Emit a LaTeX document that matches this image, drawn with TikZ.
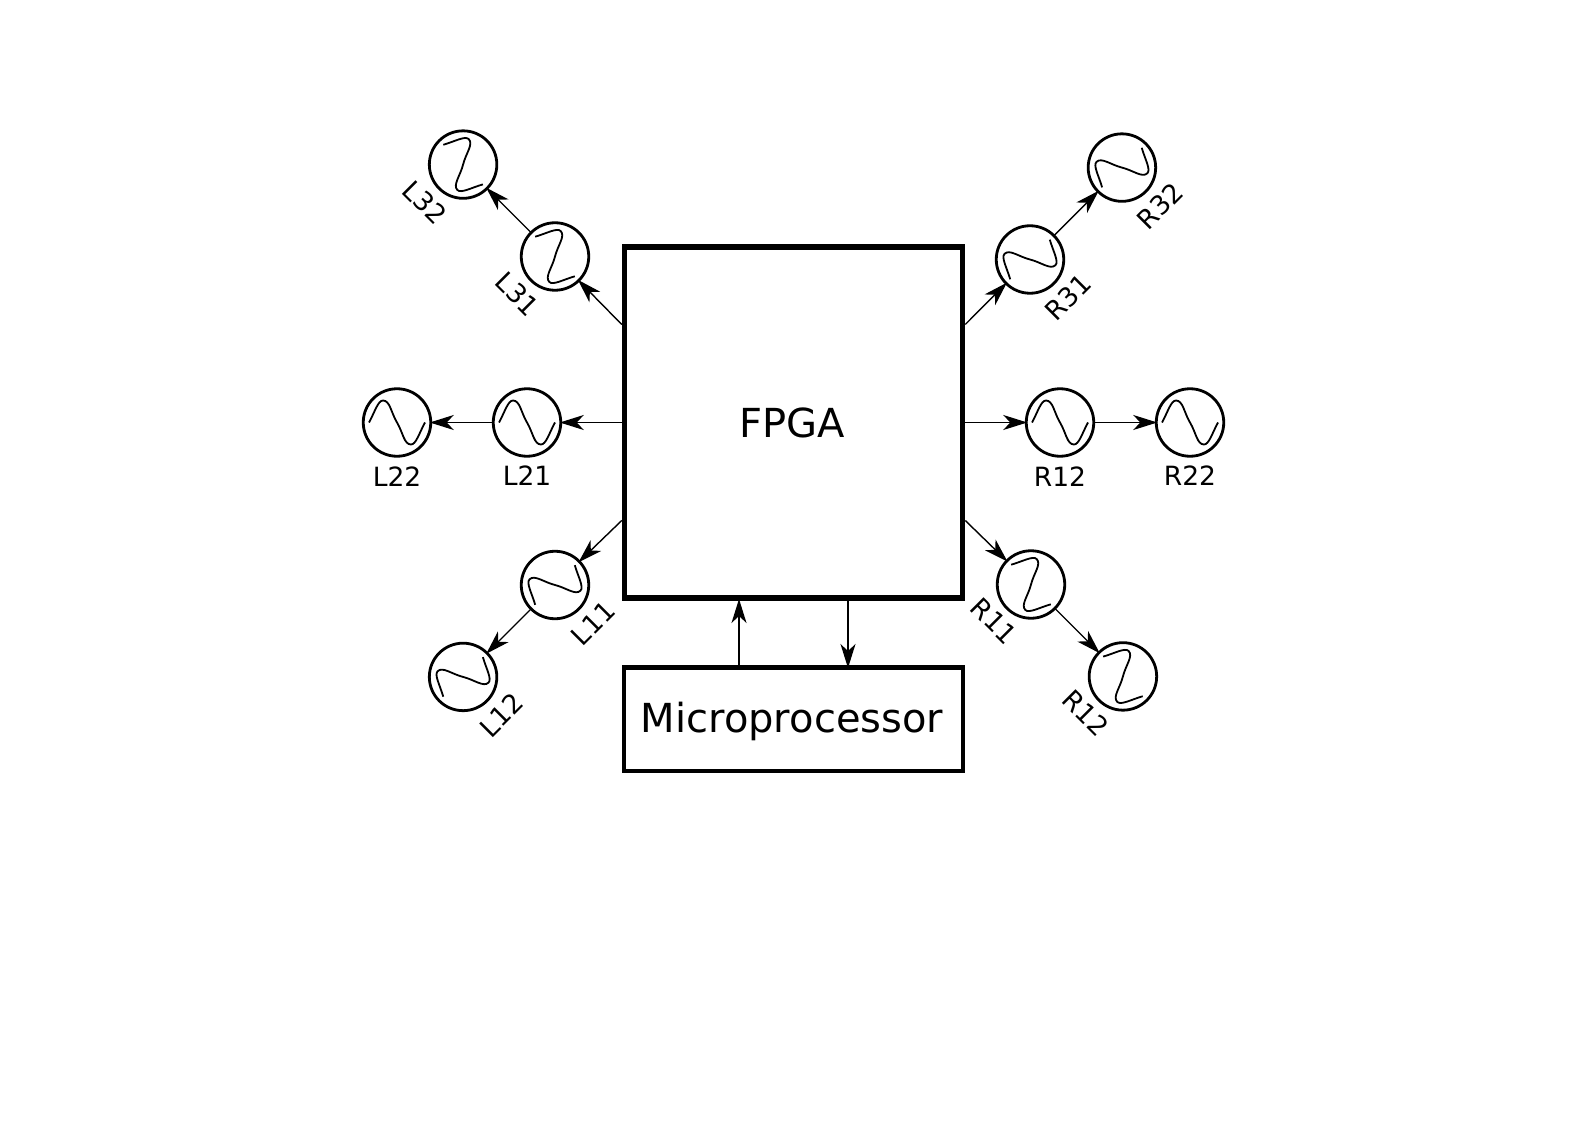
\documentclass[tikz,border=0pt]{standalone}
\usepackage{fontspec}
\setmainfont{DejaVu Sans}
\usetikzlibrary{arrows.meta}

\tikzset{
    osc/.style={circle,draw,line width=2.8pt,minimum size=67.5pt,inner sep=0pt,outer sep=0pt},
    oscname/.style={font=\fontsize{26.5}{30}\selectfont,inner sep=0pt},
    block/.style={draw,line width=#1,inner sep=0pt,font=\fontsize{40}{46}\selectfont},
    pics/sinewave/.style={code={
        \draw[line width=1.8pt,shorten >=0pt]
            (-28,0) .. controls (-22,-11) and (-19,-22) .. (-14,-22)
            .. controls (-7,-22) and (-6,-10) .. (0,0)
            .. controls (6,10) and (7,22) .. (14,22)
            .. controls (19,22) and (22,11) .. (28,0);}}
}

\begin{document}
\begin{tikzpicture}[x=1pt,y=-1pt,>={Stealth[length=24pt,width=15pt,inset=7pt]},shorten >=-1pt,line width=1.4pt]
            \useasboundingbox (0,0) rectangle (1588,1123);

            \node[block=5.5pt, minimum width=338pt, minimum height=351pt] (fpga) at (793.5,422.5) {\hspace*{-3pt}FPGA};
            \node[block=4.5pt, minimum width=339pt, minimum height=103.5pt, text depth=2.5pt] (micro) at (793.5,719) {\hspace*{-3pt}Microprocessor};

            % middle row
            \node[osc] (L21)[left of = fpga, node distance=266.5pt] {};
            \node[osc] (L22)[left of = L21, node distance=130pt] {};
            \node[osc] (R21)[right of = fpga, node distance=266.5pt] {};
            \node[osc] (R22)[right of = R21, node distance=130pt] {};
            % corners
            \node[osc] (L31) at (555,256.5) {};
            \node[osc] (L32)[above left of = L31, node distance=130pt] {};
            \node[osc] (L11) at (555,585) {};
            \node[osc] (L12)[below left of = L11, node distance=130pt] {};
            \node[osc] (R31) at (1030,259.5) {};
            \node[osc] (R32)[above right of = R31, node distance=130pt] {};
            \node[osc] (R11) at (1031,584.5) {};
            \node[osc] (R12)[below right of = R11, node distance=130pt] {};

            \pic at (L21) {sinewave};
            \pic at (L22) {sinewave};
            \pic at (R21) {sinewave};
            \pic at (R22) {sinewave};
            \pic[rotate=-45] at (L31) {sinewave};
            \pic[rotate=-45] at (L32) {sinewave};
            \pic[rotate=45] at (L11) {sinewave};
            \pic[rotate=45] at (L12) {sinewave};
            \pic[rotate=45] at (R31) {sinewave};
            \pic[rotate=45] at (R32) {sinewave};
            \pic[rotate=-45] at (R11) {sinewave};
            \pic[rotate=-45] at (R12) {sinewave};

            \node[oscname] (tL21)[below of = L21, node distance=53pt] {L21};
            \node[oscname] (tL22)[below of = L22, node distance=54.5pt] {L22};
            \node[oscname] (tR21)[below of = R21, node distance=54.5pt] {R12};
            \node[oscname] (tR22)[below of = R22, node distance=53pt] {R22};
            \node[oscname, below left of = L31, node distance=53pt, rotate=-45] (tL31) {L31};
            \node[oscname, below left of = L32, node distance=54pt, rotate=-45] (tL32) {L32};
            \node[oscname, below right of = L11, node distance=54pt, rotate=45] (tL11) {L11};
            \node[oscname, below right of = L12, node distance=54pt, rotate=45] (tL12) {L12};
            \node[oscname, below right of = R31, node distance=54pt, rotate=45] (tR31) {R31};
            \node[oscname, below right of = R32, node distance=54pt, rotate=45] (tR32) {R32};
            \node[oscname, below left of = R11, node distance=52pt, rotate=-45] (tR11) {R11};
            \node[oscname, below left of = R12, node distance=52pt, rotate=-45] (tR12) {R12};

            \coordinate (fL3) at ([yshift=98pt]fpga.west);
            \coordinate (fL1) at ([yshift=-98pt]fpga.west);
            \coordinate (fR3) at ([yshift=98pt]fpga.east);
            \coordinate (fR1) at ([yshift=-98pt]fpga.east);
            \coordinate (fUp) at (739,600);
            \coordinate (mUp) at (739,667);
            \coordinate (fDown) at (848,600);
            \coordinate (mDown) at (848,667);

            \path[->]
                (fpga) edge (L21)
                (L21) edge (L22)
                (fpga) edge (R21)
                (R21) edge (R22)
                (fL3) edge (L31)
                (L31) edge (L32)
                (fL1) edge (L11)
                (L11) edge (L12)
                (fR3) edge (R31)
                (R31) edge (R32)
                (fR1) edge (R11)
                (R11) edge (R12)
                (mUp) edge (fUp)
                (fDown) edge (mDown)
                ;
        \end{tikzpicture}
\end{document}
